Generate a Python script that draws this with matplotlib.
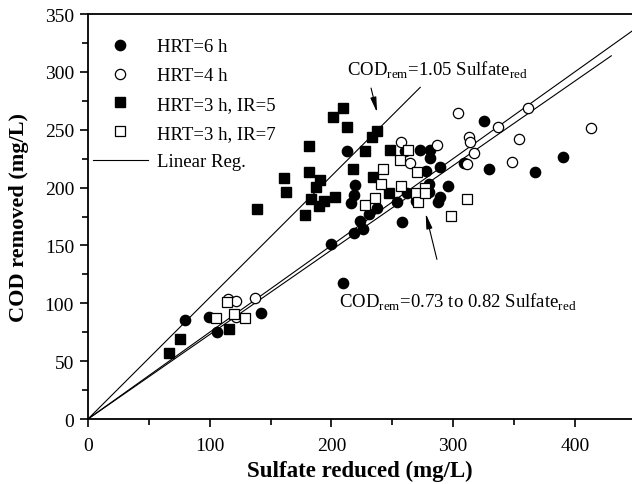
import matplotlib
matplotlib.use('Agg')
import numpy as np
import matplotlib.pyplot as plt
from matplotlib.ticker import MultipleLocator

plt.rcParams['font.family'] = ['Liberation Serif', 'DejaVu Serif']
plt.rcParams['mathtext.fontset'] = 'custom'
plt.rcParams['mathtext.rm'] = 'Liberation Serif'

# HRT = 6 h (filled circles)
hrt6_x = [79.4, 99.7, 105.7, 142.2, 199.5, 209.8, 213.1, 215.9, 218.6, 218.6,
          219.7, 223.6, 225.8, 231.0, 237.3, 254.2, 257.8, 260.5, 261.9, 269.6,
          272.9, 277.8, 279.8, 280.5, 281.1, 281.1, 287.9, 289.3, 289.3, 295.6,
          309.0, 325.7, 329.8, 367.4, 390.6]
hrt6_y = [85.6, 88.2, 75.2, 91.6, 151.0, 117.5, 231.9, 186.7, 193.6, 160.8,
          202.2, 171.4, 164.2, 176.9, 182.4, 187.8, 170.5, 231.9, 195.0, 188.7,
          232.5, 214.6, 195.9, 203.1, 232.5, 225.3, 187.3, 192.1, 217.5, 201.6,
          221.3, 257.8, 216.1, 213.7, 226.7]

# HRT = 4 h (open circles)
hrt4_x = [114.8, 121.6, 121.6, 137.3, 257.3, 264.7, 286.6, 304.4, 311.3, 313.1,
          314.0, 317.5, 337.2, 348.2, 354.2, 361.9, 413.4]
hrt4_y = [103.7, 101.7, 87.9, 104.6, 239.1, 221.0, 236.8, 264.2, 220.4, 243.5,
          239.7, 229.9, 252.6, 221.9, 242.0, 268.5, 251.5]

# HRT = 3 h, IR = 5 (filled squares)
ir5_x = [66.8, 75.3, 116.1, 138.6, 161.1, 162.5, 178.1, 181.4, 181.6, 183.5,
         187.4, 190.1, 190.7, 194.0, 201.6, 203.3, 209.8, 213.1, 217.6, 227.7,
         233.2, 234.5, 237.3, 247.1, 248.2]
ir5_y = [57.3, 68.9, 77.5, 181.5, 208.0, 196.5, 176.6, 235.7, 213.2, 190.1,
         200.8, 184.4, 206.8, 188.7, 260.7, 191.6, 268.8, 252.1, 216.1, 231.4,
         244.0, 208.9, 248.7, 195.0, 232.8]

# HRT = 3 h, IR = 7 (open squares)
ir7_x = [105.0, 114.5, 120.3, 129.0, 227.7, 235.9, 240.6, 242.7, 256.4, 257.0,
         263.3, 269.6, 270.2, 271.5, 277.0, 277.0, 298.1, 311.3]
ir7_y = [87.3, 100.9, 90.8, 87.0, 184.9, 190.7, 203.1, 216.1, 223.9, 201.6,
         232.5, 195.3, 213.2, 187.3, 199.4, 195.0, 175.7, 190.1]

# regression lines through the origin: slope and x extent
reg_slopes = [1.05, 0.75, 0.73]
reg_xmax = [273, 460, 430]

fig = plt.figure(figsize=(6.32, 4.85), dpi=100)
ax = fig.add_axes([0.1392, 0.134, 0.8608, 0.835])

for slope, xmax in zip(reg_slopes, reg_xmax):
    xs = np.array([0, xmax])
    ax.plot(xs, slope * xs, color='k', lw=0.8, zorder=1)

ax.plot(hrt6_x, hrt6_y, 'o', color='k', ms=7.4, ls='none', label='HRT=6 h',
        zorder=3)
ax.plot(hrt4_x, hrt4_y, 'o', mfc='white', mec='k', mew=0.9, ms=7.4,
        ls='none', label='HRT=4 h', zorder=3)
ax.plot(ir5_x, ir5_y, 's', color='k', ms=6.5, ls='none',
        label='HRT=3 h, IR=5', zorder=3)
ax.plot(ir7_x, ir7_y, 's', mfc='white', mec='k', mew=0.9, ms=6.5,
        ls='none', label='HRT=3 h, IR=7', zorder=3)
ax.plot([], [], color='k', lw=0.8, label='Linear Reg.')

ax.set_xlim(0, 447)
ax.set_ylim(0, 350)
ax.xaxis.set_major_locator(MultipleLocator(100))
ax.xaxis.set_minor_locator(MultipleLocator(50))
ax.yaxis.set_major_locator(MultipleLocator(50))
ax.yaxis.set_minor_locator(MultipleLocator(25))
ax.tick_params(which='major', direction='out', length=6, width=1.2,
               labelsize=14, top=False, right=False)
ax.tick_params(axis='x', which='major', pad=7)
ax.tick_params(axis='y', which='major', pad=4)
ax.tick_params(which='minor', direction='out', length=4, width=1.2,
               top=False, right=False)
ax.spines['right'].set_visible(False)
for side in ['left', 'bottom', 'top']:
    ax.spines[side].set_linewidth(1.3)

ax.set_xlabel('Sulfate reduced (mg/L)', fontsize=16.5, fontweight='bold',
              labelpad=4)
ax.set_ylabel('COD removed (mg/L)', fontsize=16, fontweight='bold',
              labelpad=11)

ax.text(212.5, 298, r'COD$_{\mathrm{rem}}$=1.05 Sulfate$_{\mathrm{red}}$',
        fontsize=13.5, va='baseline')
ax.annotate('', xy=(237.5, 265), xytext=(232.6, 286),
            arrowprops=dict(arrowstyle='-|>,head_width=0.18,head_length=0.9',
                            color='k', lw=0.8, shrinkA=0, shrinkB=0))
ax.text(206.3, 102, r'COD$_{\mathrm{rem}}$=0.73 to 0.82 Sulfate$_{\mathrm{red}}$',
        fontsize=13.5, va='center')
ax.annotate('', xy=(277.5, 177.5), xytext=(286.7, 138),
            arrowprops=dict(arrowstyle='-|>,head_width=0.18,head_length=0.9',
                            color='k', lw=0.8, shrinkA=0, shrinkB=0))

ax.legend(loc='upper left', bbox_to_anchor=(0.009, 0.94), frameon=False,
          fontsize=13.5, labelspacing=0.62, handlelength=2.93,
          handletextpad=0.48, borderpad=0, borderaxespad=0)

plt.savefig('out.png', dpi=100)
